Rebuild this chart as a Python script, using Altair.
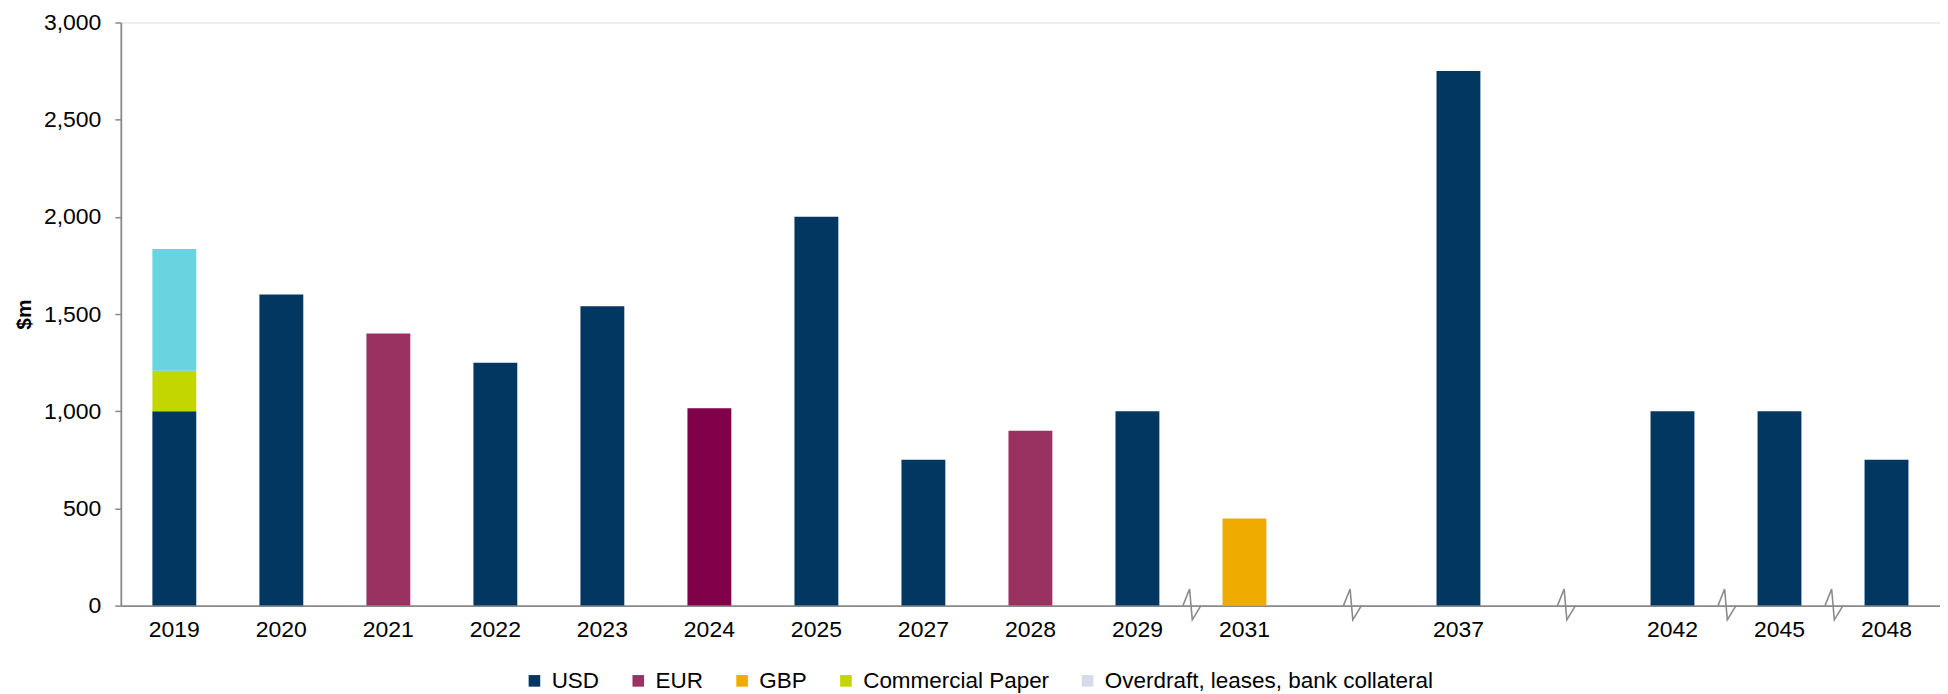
import altair as alt
import pandas as pd

# x slots (gaps are empty slots on the axis)
YEARS = ["2019", "2020", "2021", "2022", "2023", "2024", "2025", "2027", "2028",
         "2029", "2031", "gap1", "2037", "gap2", "2042", "2045", "2048"]
SERIES = ["USD", "EUR", "GBP", "Commercial Paper", "Overdraft, leases, bank collateral"]
LEGEND_COLORS = ["#023761", "#993260", "#F0AB00", "#C4D600", "#D5DCE6"]

bar_year = ["2019", "2019", "2019", "2020", "2021", "2022", "2023", "2024", "2025",
            "2027", "2028", "2029", "2031", "2037", "2042", "2045", "2048"]
bar_series = ["USD", "Commercial Paper", "Overdraft, leases, bank collateral", "USD", "EUR",
              "USD", "USD", "EUR", "USD", "USD", "EUR", "USD", "GBP", "USD", "USD", "USD", "USD"]
bar_value = [1000, 208, 627, 1600, 1400, 1250, 1540, 1015, 2000, 750, 900, 1000, 448,
             2750, 1000, 1000, 750]
bar_fill = ["#023761", "#C4D600", "#69D3DF", "#023761", "#993260", "#023761", "#023761",
            "#80004A", "#023761", "#023761", "#993260", "#023761", "#F0AB00", "#023761",
            "#023761", "#023761", "#023761"]

# axis break marks: in the middle of an empty slot, or at the left edge of a slot
BREAK_MID = ["gap1", "gap2"]
BREAK_EDGE = ["2031", "2045", "2048"]

W = 1822
H = 584
STEP = W / len(YEARS)
FONT = "Liberation Sans"
GREY = "#8a8a8a"
ZIGZAG = "M-0.47,0L-0.08,-0.98L0.08,0.84L0.59,0"

bars_df = pd.DataFrame({
    "year": bar_year,
    "series": bar_series,
    "value": bar_value,
    "fill": bar_fill,
    "order": [SERIES.index(s) for s in bar_series],
})
legend_df = pd.DataFrame({"year": ["2019"] * len(SERIES), "series": SERIES, "value": [0] * len(SERIES)})
mid_df = pd.DataFrame({"year": BREAK_MID, "value": [0] * len(BREAK_MID)})
edge_df = pd.DataFrame({"year": BREAK_EDGE, "value": [0] * len(BREAK_EDGE)})

xscale = alt.Scale(domain=YEARS, paddingInner=0.59, paddingOuter=0.295)
xaxis = alt.Axis(
    title=None, ticks=False, labelPadding=13, labelAngle=0,
    labelExpr="indexof(datum.label, 'gap') == 0 ? '' : datum.label",
    domainColor=GREY, domainWidth=1.8, labelFontSize=23, labelColor="#000000",
    labelFont=FONT,
)
yscale = alt.Scale(domain=[0, 3000], nice=False)
yaxis = alt.Axis(
    title="$m", values=[0, 500, 1000, 1500, 2000, 2500, 3000], format=",.0f",
    grid=False, tickSize=6, labelPadding=14, tickColor=GREY, domainColor=GREY,
    domainWidth=1.8, tickWidth=1.5, labelFontSize=23, labelColor="#000000", labelFont=FONT,
    titleFontSize=21, titleFont=FONT, titleFontWeight="bold", titleColor="#000000",
    titlePadding=9,
)

bars = alt.Chart(bars_df).mark_bar().encode(
    x=alt.X("year:N", scale=xscale, axis=xaxis, sort=YEARS),
    y=alt.Y("value:Q", scale=yscale, axis=yaxis, stack="zero", title="$m"),
    fill=alt.Fill("fill:N", scale=None),
    order=alt.Order("order:Q"),
)

legend_layer = alt.Chart(legend_df).mark_bar().encode(
    x=alt.X("year:N", sort=YEARS),
    y=alt.Y("value:Q", title="$m"),
    color=alt.Color(
        "series:N",
        scale=alt.Scale(domain=SERIES, range=LEGEND_COLORS),
        legend=alt.Legend(
            title=None, orient="none", direction="horizontal", legendX=403, legendY=648,
            symbolType="square", symbolSize=135, symbolStrokeWidth=0, symbolOpacity=1,
            labelFontSize=22.5, labelFont=FONT, labelColor="#000000", labelOffset=6,
            columnPadding=27, columns=5, labelLimit=600,
        ),
    ),
)

mid_breaks = alt.Chart(mid_df).mark_point(
    shape=ZIGZAG, size=1156, filled=False, stroke=GREY, strokeWidth=1.6, opacity=1,
).encode(
    x=alt.X("year:N", sort=YEARS),
    y=alt.Y("value:Q", title="$m"),
)
edge_breaks = alt.Chart(edge_df).mark_point(
    shape=ZIGZAG, size=1156, filled=False, stroke=GREY, strokeWidth=1.6, opacity=1,
    xOffset=-STEP / 2,
).encode(
    x=alt.X("year:N", sort=YEARS),
    y=alt.Y("value:Q", title="$m"),
)

chart = alt.layer(bars, legend_layer, mid_breaks, edge_breaks).properties(
    width=W, height=H,
    padding={"left": 5, "top": 3, "right": 0, "bottom": 0},
).configure_view(stroke=None).configure(background="white")

chart.save("out.html", embed_options={"renderer": "svg", "actions": False})
